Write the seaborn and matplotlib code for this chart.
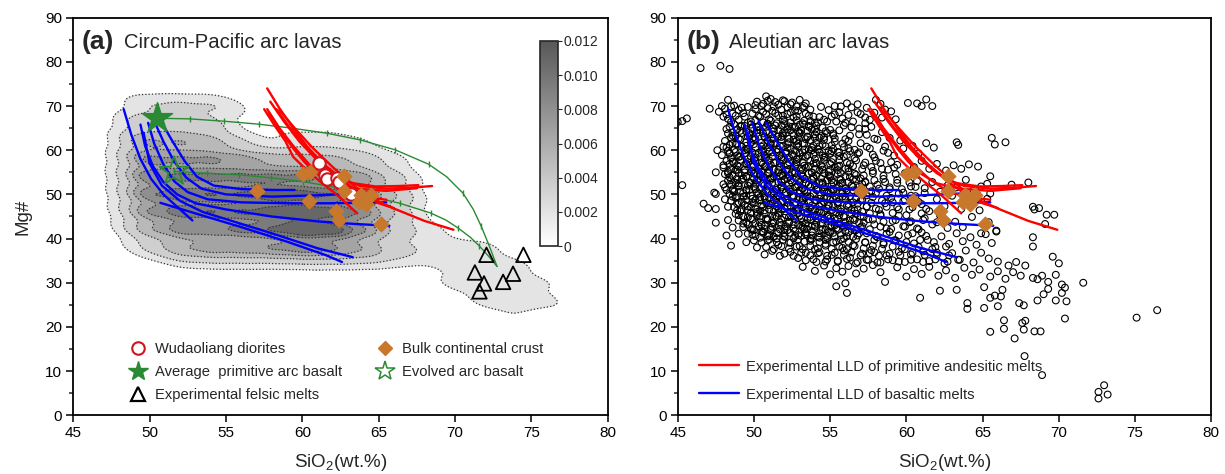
import numpy as np
import pandas as pd
import matplotlib
matplotlib.use("Agg")
import matplotlib.pyplot as plt
import seaborn as sns
from matplotlib.lines import Line2D
from matplotlib.colors import LinearSegmentedColormap, Normalize
from matplotlib.cm import ScalarMappable
from matplotlib.ticker import MultipleLocator

sns.set_theme(style="ticks")
plt.rcParams['font.family'] = ['Liberation Sans', 'DejaVu Sans']
plt.rcParams['mathtext.fontset'] = 'custom'
plt.rcParams['mathtext.rm'] = 'Liberation Sans'
plt.rcParams['mathtext.default'] = 'regular'

# ---------------- data ----------------
# density anchors for circum-Pacific arc lavas (SiO2, Mg#, relative density)
dens_sio2 = [50, 52, 54, 55.2,
             49.3, 50, 52, 54,
             49.3, 50, 52, 54, 56, 58, 60, 62, 64,
             49.3, 50, 52, 54, 56, 58, 60, 62, 64, 66,
             49.3, 50, 52, 54, 56, 58, 60, 62, 64, 66,
             49.3, 50, 52, 54, 56, 58, 60, 62, 64, 66,
             49.3, 50, 52, 54, 56, 58, 60, 62, 64, 66,
             49.3, 50, 52, 54, 56, 58, 60, 62, 64, 66, 68,
             50, 52, 54, 56, 58, 60, 62, 64, 66, 68, 70, 72,
             52, 54, 56, 58, 60, 62, 64, 66, 68, 70, 72, 74,
             70, 72, 74, 76,
             72, 74, 76,
             74]
dens_mg = [70, 70, 70, 70,
           66, 66, 66, 66,
           62, 62, 62, 62, 62, 62, 62, 62, 62,
           58, 58, 58, 58, 58, 58, 58, 58, 58, 58,
           54, 54, 54, 54, 54, 54, 54, 54, 54, 54,
           50, 50, 50, 50, 50, 50, 50, 50, 50, 50,
           46, 46, 46, 46, 46, 46, 46, 46, 46, 46,
           42, 42, 42, 42, 42, 42, 42, 42, 42, 42, 42,
           38, 38, 38, 38, 38, 38, 38, 38, 38, 38, 38, 38,
           36, 36, 36, 36, 36, 36, 36, 36, 36, 34, 34, 34,
           30, 30, 30, 30,
           26, 26, 26,
           22]
dens_w = [0.8, 1.0, 0.8, 0.3,
          0.5, 1.5, 1.8, 1.2,
          1.2, 2.5, 3.0, 2.5, 0.8, 0.1, 0.5, 0.5, 0.2,
          1.5, 3.5, 4.0, 4.0, 3.5, 2.5, 2.5, 2.2, 1.5, 0.3,
          1.5, 4.0, 5.0, 5.0, 5.0, 5.0, 5.0, 4.5, 3.5, 1.2,
          1.3, 4.0, 5.5, 5.5, 5.5, 6.5, 6.0, 5.5, 4.5, 2.0,
          1.0, 3.5, 5.5, 5.5, 5.5, 6.0, 6.5, 6.0, 4.5, 1.8,
          0.5, 2.5, 4.5, 4.5, 5.0, 5.5, 7.0, 6.5, 4.0, 1.5, 0.5,
          1.0, 2.5, 3.0, 3.0, 3.5, 4.0, 3.5, 2.5, 1.0, 0.5, 0.4, 0.3,
          0.8, 1.0, 1.0, 1.0, 1.2, 1.2, 1.0, 0.5, 0.3, 0.4, 0.5, 0.3,
          0.35, 0.5, 0.5, 0.2,
          0.35, 0.5, 0.3,
          0.2]

# Experimental LLD of basaltic melts
blue_sio2 = [
    [48.3, 48.8, 49.4, 50.1, 50.9, 51.8, 52.8],
    [49.4, 49.7, 50.2, 50.9, 51.8, 53.0, 55.0, 58.0, 61.0, 63.5, 65.7],
    [49.9, 50.3, 50.9, 51.6, 52.5, 53.8, 56.0, 59.0, 62.0, 65.5],
    [50.3, 50.9, 51.6, 52.4, 53.4, 55.0, 58.0, 61.0, 64.8],
    [50.8, 51.5, 52.3, 53.1, 54.2, 56.0, 58.0, 59.5],
    [50.7, 53.0, 56.0, 59.0, 61.5, 62.6],
    [49.6, 50.0, 50.8, 52.0, 53.5, 55.0, 58.0, 61.0, 63.3],
]
blue_mg = [
    [69.3, 63.5, 58.0, 53.5, 50.0, 47.2, 44.1],
    [65.8, 61.0, 56.5, 52.8, 50.0, 48.0, 46.6, 45.0, 43.9, 43.3, 42.9],
    [66.2, 61.5, 56.8, 53.0, 50.5, 48.9, 48.2, 48.0, 48.0, 48.2],
    [66.6, 62.0, 57.5, 53.8, 51.3, 50.0, 49.5, 49.8, 50.4],
    [66.2, 62.0, 57.5, 54.0, 52.0, 51.2, 51.0, 51.0],
    [48.1, 45.7, 42.6, 39.3, 36.3, 34.7],
    [64.0, 57.0, 52.0, 48.5, 46.0, 44.4, 41.2, 37.8, 35.8],
]

# Experimental LLD of primitive andesitic melts
red_sio2 = [
    [57.7, 58.5, 59.4, 60.4, 61.5, 62.6, 63.8, 65.5, 67.0, 68.5],
    [57.9, 58.8, 59.8, 60.9, 62.0, 63.2, 64.8, 66.3, 67.6],
    [57.5, 58.2, 58.9, 59.4, 60.2, 61.2, 62.3, 63.6],
    [57.7, 58.5, 59.4, 60.4, 61.5, 62.8, 64.2, 65.5],
    [58.3, 59.2, 60.2, 61.3, 62.5, 63.8, 65.0, 66.0],
    [58.5, 59.5, 60.6, 61.8, 63.0, 64.3, 66.0, 68.0, 69.9],
    [57.8, 58.6, 59.5, 60.1, 60.8, 62.0, 63.5, 65.5, 67.5],
]
red_mg = [
    [74.0, 69.5, 65.0, 60.5, 56.5, 53.5, 51.9, 51.3, 51.5, 51.9],
    [71.0, 66.5, 62.0, 58.0, 54.8, 52.6, 51.8, 51.9, 52.1],
    [69.3, 65.5, 62.0, 58.5, 55.8, 52.8, 49.8, 45.7],
    [69.3, 65.0, 61.0, 57.0, 53.5, 50.5, 49.3, 48.8],
    [69.3, 65.0, 61.0, 57.2, 53.5, 50.2, 48.0, 46.9],
    [69.1, 65.0, 60.8, 56.8, 53.0, 49.5, 46.8, 44.0, 42.0],
    [68.5, 64.2, 60.0, 57.5, 55.0, 52.5, 51.3, 50.8, 51.4],
]

# mixing curves (green); tick marks at mixing increments
mix_sio2 = [
    [50.45, 52.63, 54.89, 57.14, 59.35, 61.6, 63.79, 66.09, 68.27, 69.45, 70.52, 71.2, 71.72, 72.25, 72.75],
    [51.6, 53.78, 55.85, 57.95, 60.03, 62.2, 64.3, 66.4, 68.4, 69.4, 70.2, 71.0, 71.6, 72.2, 72.75],
]
mix_mg = [
    [67.24, 67.1, 66.56, 65.9, 64.98, 63.85, 62.34, 60.08, 56.84, 54.0, 50.29, 46.6, 42.75, 38.3, 33.7],
    [55.2, 54.8, 54.43, 53.75, 52.9, 51.6, 49.7, 47.98, 45.8, 44.2, 42.4, 40.3, 38.3, 36.0, 33.7],
]
mix_ticks = [[0, 1, 2, 3, 4, 5, 6, 7, 8, 10, 12], [0, 1, 2, 3, 4, 5, 6, 7, 8, 10, 12]]

wud_sio2 = [61.1, 61.5, 61.6, 62.3, 62.4, 63.2]
wud_mg = [57.0, 54.5, 53.4, 53.8, 52.7, 50.0]

bcc_sio2 = [57.05, 60.07, 60.53, 62.75, 62.75, 60.43, 63.83, 64.53, 63.7, 64.2, 62.19, 62.43, 65.15]
bcc_mg = [50.66, 54.63, 55.1, 54.25, 50.7, 48.5, 49.95, 49.85, 48.2, 47.8, 46.35, 44.25, 43.4]

felsic_sio2 = [72.06, 74.48, 71.3, 71.9, 71.6, 73.15, 73.8]
felsic_mg = [36.33, 36.33, 32.33, 29.85, 28.05, 30.2, 32.05]

pab_sio2, pab_mg = [50.45], [67.24]      # average primitive arc basalt
eab_sio2, eab_mg = [51.6], [55.2]        # evolved arc basalt

# Aleutian arc lavas: scattered samples
ale_sio2 = [
 46.5, 47.8, 48.4, 45.0, 45.3, 45.6, 47.1, 45.3, 46.7, 47.0, 47.4, 47.5, 47.5, 47.5, 47.6,
 47.9, 48.3, 48.7, 49.2, 50.1, 50.8, 50.9, 51.4, 51.9, 52.4, 52.8, 53.3, 54.4, 54.9, 55.3, 55.7, 56.1, 56.4, 56.8, 57.4, 58.0, 58.3, 58.6, 59.0,
 47.7, 48.0, 48.3, 48.6, 49.4, 49.8, 50.3, 50.6, 51.0, 51.2, 51.6, 52.0, 52.2, 52.6, 52.9, 53.3, 53.6, 54.0, 54.3, 54.8, 55.3, 55.8, 56.5, 57.0, 57.6, 57.9, 58.4, 59.3,
 48.2, 48.6, 49.1, 49.5, 49.9, 50.2, 50.6, 50.9, 51.3, 51.6, 51.9, 52.3, 52.6, 52.9, 53.3, 53.5, 53.8, 54.1, 54.3, 54.7, 55.2, 55.6, 56.0, 56.4, 56.9, 57.3, 57.9, 58.4, 58.9, 59.6,
 48.0, 48.4, 48.8, 49.1, 49.5, 49.8, 50.1, 50.5, 50.8, 51.1, 51.5, 51.8, 52.2, 52.5, 52.9, 53.2, 53.6, 53.9, 54.3, 54.7, 55.1, 55.6, 56.2, 56.8, 57.4, 57.9, 58.5, 59.2, 59.8, 60.4, 60.8, 61.3, 61.8, 63.3, 63.4,
 47.5, 48.0, 48.3, 48.6, 48.9, 49.2, 49.5, 49.8, 50.1, 50.4, 50.7, 51.0, 51.3, 51.6, 51.9, 52.2, 52.5, 52.8, 53.1, 53.4, 53.8, 54.1, 54.5, 54.9, 55.3, 55.7, 56.2, 56.7, 57.2, 57.8, 58.3, 58.8, 59.4, 59.9, 60.5, 61.0, 61.5, 62.0, 62.6, 63.1, 63.6, 64.1, 64.7,
 48.0, 48.2, 48.5, 48.7, 49.0, 49.3, 49.5, 49.8, 50.1, 50.3, 50.6, 50.9, 51.2, 51.5, 51.8, 52.1, 52.4, 52.7, 53.0, 53.3, 53.6, 53.9, 54.2, 54.5, 54.8, 55.1, 55.4, 55.8, 56.1, 56.5, 56.9, 57.3, 57.7, 58.1, 58.5, 58.9, 59.4, 59.8, 60.3, 60.7, 61.2, 61.7, 62.2, 62.7, 63.3, 63.9, 64.4, 64.9, 65.5, 65.3,
 48.1, 48.3, 48.6, 48.9, 49.2, 49.5, 49.8, 50.1, 50.4, 50.7, 51.0, 51.3, 51.6, 51.9, 52.2, 52.5, 52.8, 53.1, 53.4, 53.7, 54.0, 54.3, 54.6, 54.9, 55.2, 55.5, 55.8, 56.2, 56.6, 57.0, 57.4, 57.8, 58.2, 58.6, 59.0, 59.4, 59.8, 60.2, 60.6, 61.0, 61.5, 62.0, 62.5, 63.0, 63.6, 64.2, 64.8, 65.3, 68.3, 68.4, 68.7, 69.2, 69.7,
 48.3, 48.6, 49.0, 49.3, 49.6, 49.9, 50.2, 50.5, 50.8, 51.1, 51.4, 51.7, 52.0, 52.3, 52.6, 52.9, 53.2, 53.5, 53.8, 54.1, 54.4, 54.7, 55.0, 55.3, 55.6, 55.9, 56.3, 56.7, 57.1, 57.5, 57.9, 58.3, 58.7, 59.1, 59.5, 59.9, 60.3, 60.8, 61.2, 61.7, 62.2, 62.7, 63.2, 63.7, 64.3, 64.9, 65.4, 65.9, 69.1,
 48.2, 48.5, 49.0, 49.5, 49.9, 50.2, 50.6, 50.9, 51.3, 51.6, 52.0, 52.3, 52.7, 53.0, 53.4, 53.7, 54.0, 54.3, 54.7, 55.0, 55.4, 55.8, 56.1, 56.5, 56.9, 57.3, 57.7, 58.1, 58.5, 58.9, 59.3, 59.7, 60.1, 60.5, 61.0, 61.4, 61.9, 62.3, 62.8, 63.3, 63.7, 64.2, 64.6, 65.2, 65.6, 65.9, 68.3, 68.3,
 50.7, 51.2, 51.7, 52.4, 52.9, 53.4, 53.9, 54.3, 54.7, 55.1, 55.5, 55.9, 56.3, 56.7, 57.1, 57.5, 57.9, 58.3, 58.7, 59.1, 59.5, 59.9, 60.3, 60.7, 61.1, 61.5, 62.0, 62.5, 63.0, 63.4, 63.9, 64.4, 64.9, 65.4, 66.0, 66.7, 67.2, 69.6, 70.0,
 53.2, 54.0, 54.6, 55.0, 55.4, 55.8, 56.2, 56.7, 57.2, 57.8, 58.3, 58.6, 59.4, 60.0, 60.5, 61.0, 61.5, 62.1, 62.6, 63.2, 63.8, 64.3, 64.8, 65.5, 66.0, 66.5, 67.0, 67.5, 67.8, 68.3, 68.6, 68.9, 69.3, 69.8, 70.2, 70.4, 71.6,
 55.4, 56.0, 56.1, 63.3, 60.9, 62.2, 65.1, 65.5, 65.8, 66.3, 66.2, 67.4, 67.7, 68.6, 69.0, 69.3, 69.8, 70.2, 70.5,
 64.0, 64.0, 65.1, 66.0, 66.4, 66.4, 65.5, 67.1, 67.6, 67.8, 67.7, 68.4, 68.8, 70.4,
 68.9, 67.75, 72.6, 72.97, 73.2, 72.6, 75.1, 76.45, 65.6, 65.8, 66.5, 65.5, 66.9, 68.0, 60.1, 60.7, 61.0, 61.3, 61.7,
]
ale_mg = [
 78.6, 79.1, 78.4, 66.4, 66.6, 67.2, 69.4, 52.1, 47.9, 46.9, 50.4, 50.1, 46.7, 43.6, 60.0,
 70.0, 71.4, 70.1, 69.6, 70.2, 72.2, 71.2, 70.9, 71.3, 70.4, 69.9, 70.0, 69.8, 69.1, 70.0, 69.9, 70.6, 69.7, 70.4, 69.6, 71.4, 70.5, 69.2, 68.8,
 68.7, 67.6, 67.1, 68.3, 67.6, 66.5, 67.8, 68.7, 67.0, 68.9, 67.9, 66.6, 68.2, 67.4, 68.9, 66.7, 67.8, 66.2, 67.5, 66.5, 68.1, 67.2, 66.5, 68.2, 66.9, 68.5, 67.4, 67.0,
 64.8, 63.3, 65.4, 64.2, 62.7, 65.2, 63.8, 65.9, 62.6, 64.6, 63.3, 65.4, 62.4, 64.2, 65.8, 63.1, 64.7, 65.6, 62.8, 64.3, 63.4, 64.5, 62.5, 65.2, 63.6, 64.8, 62.6, 64.1, 62.8, 62.2,
 60.8, 59.2, 61.4, 58.6, 60.3, 61.7, 59.1, 60.8, 58.3, 61.2, 59.6, 58.4, 60.6, 59.1, 61.5, 58.6, 60.2, 59.0, 60.9, 58.5, 59.8, 58.7, 60.4, 59.2, 60.8, 58.4, 59.9, 58.8, 60.4, 61.0, 59.3, 61.6, 60.6, 61.8, 61.2,
 55.0, 56.6, 54.8, 57.4, 55.6, 54.3, 56.8, 55.1, 57.6, 54.6, 56.3, 54.9, 57.2, 55.5, 54.2, 56.6, 55.0, 57.3, 54.6, 56.1, 54.9, 57.0, 55.6, 54.3, 56.2, 54.8, 55.9, 54.4, 56.6, 55.3, 57.1, 55.6, 56.7, 54.8, 56.2, 57.6, 55.8, 56.9, 55.4, 56.6, 55.8, 56.8, 56.3,
 52.3, 51.0, 53.2, 50.6, 52.0, 53.6, 50.9, 52.6, 51.2, 53.4, 50.3, 52.2, 53.7, 51.0, 52.8, 50.5, 53.2, 51.6, 52.9, 50.8, 52.2, 53.6, 51.3, 52.7, 50.6, 53.2, 51.5, 52.6, 50.9, 53.4, 51.7, 52.9, 50.7, 52.2, 53.5, 51.2, 52.6, 50.4, 51.8, 53.0, 51.4, 52.8, 50.6, 52.0, 51.6, 53.3, 50.9, 51.8, 50.2, 52.4,
 48.9, 47.2, 49.5, 46.4, 48.3, 49.7, 47.1, 48.8, 46.3, 49.2, 47.6, 49.9, 46.8, 48.5, 47.2, 49.6, 46.5, 48.2, 49.4, 47.0, 48.7, 46.2, 49.1, 47.5, 48.9, 46.7, 49.5, 47.8, 46.3, 48.6, 47.2, 49.4, 46.5, 48.0, 49.2, 47.1, 48.5, 46.6, 49.6, 47.8, 46.2, 48.9, 47.3, 49.7, 46.7, 48.2, 46.4, 49.0, 47.2, 46.6, 46.9, 45.4, 45.4,
 44.2, 42.5, 45.3, 43.4, 44.8, 42.1, 45.6, 43.1, 44.5, 42.4, 45.2, 43.7, 42.2, 44.9, 43.2, 45.7, 42.6, 44.3, 42.9, 45.4, 43.5, 42.0, 44.6, 43.0, 45.3, 42.5, 44.1, 45.6, 42.8, 44.4, 43.2, 45.5, 42.3, 44.0, 45.2, 42.7, 43.9, 42.1, 44.6, 43.2, 45.3, 42.4, 43.8, 42.6, 44.9, 41.2, 43.7, 41.6, 43.3,
 40.7, 38.4, 41.1, 39.2, 40.9, 38.0, 41.6, 39.6, 40.4, 38.6, 41.3, 39.1, 40.6, 38.3, 41.0, 39.5, 37.6, 40.2, 38.8, 41.4, 39.3, 37.9, 40.5, 38.5, 41.2, 39.1, 37.4, 40.3, 38.7, 41.5, 39.6, 37.8, 40.8, 38.9, 41.4, 39.7, 38.1, 40.5, 38.8, 41.2, 39.4, 40.3, 38.6, 41.0, 39.0, 41.8, 40.3, 38.2,
 36.4, 37.2, 36.1, 37.0, 35.6, 36.8, 35.3, 36.9, 34.8, 36.3, 35.0, 37.3, 35.7, 34.4, 36.6, 35.2, 36.9, 34.6, 36.2, 35.1, 37.0, 34.7, 36.4, 35.3, 37.1, 34.9, 36.3, 34.4, 36.7, 35.2, 37.3, 34.6, 36.8, 35.5, 34.8, 33.9, 34.7, 35.9, 34.4,
 33.6, 32.7, 33.9, 31.9, 33.3, 32.5, 33.8, 32.1, 33.2, 34.0, 32.4, 30.2, 33.5, 31.4, 33.1, 32.0, 33.6, 31.6, 32.8, 31.1, 33.4, 31.8, 33.0, 31.4, 32.6, 30.9, 32.4, 31.6, 33.9, 31.1, 30.8, 31.6, 30.2, 31.8, 29.6, 28.9, 30.0,
 29.2, 29.9, 27.7, 28.4, 26.6, 28.2, 29.0, 26.6, 27.1, 28.4, 26.9, 25.4, 24.9, 26.0, 27.4, 28.6, 26.0, 27.7, 25.8,
 25.4, 24.1, 24.3, 24.7, 21.5, 19.6, 18.9, 17.4, 20.9, 21.4, 19.4, 19.0, 19.0, 21.9,
 9.1, 13.4, 5.3, 6.8, 4.7, 3.8, 22.1, 23.8, 62.8, 61.3, 61.8, 54.1, 52.2, 52.7, 70.7, 70.6, 70.0, 71.5, 70.0,
]
# Aleutian arc lavas: densely packed core samples
core_sio2 = [
 50.2, 50.6, 51.1, 51.6, 52.0, 52.5, 53.0, 53.4,
 48.1, 48.5, 49.0, 49.6, 50.1, 50.5, 50.9, 51.3, 51.8, 52.2, 52.7, 53.2, 53.7,
 48.2, 48.8, 49.3, 49.9, 50.4, 50.8, 51.4, 51.9, 52.4, 52.8, 53.4, 53.9, 55.1, 55.6, 56.2, 56.8, 57.3,
 48.5, 49.0, 49.6, 50.1, 50.6, 51.1, 51.5, 51.9, 52.4, 52.8, 53.2, 53.7, 54.2, 54.6, 55.4, 56.0, 57.3,
 48.4, 48.9, 49.4, 49.9, 50.4, 50.8, 51.3, 51.8, 52.2, 52.7, 53.1, 53.6, 54.0, 54.5, 55.0, 55.9, 56.9, 57.7,
 48.3, 48.8, 49.2, 49.7, 50.2, 50.7, 51.2, 51.6, 52.1, 52.6, 53.0, 53.5, 54.0, 54.4, 55.2, 56.3, 57.4,
 48.1, 48.6, 49.1, 49.5, 50.0, 50.5, 50.9, 51.4, 51.8, 52.3, 52.8, 53.2, 53.7, 54.1, 54.6, 55.3, 56.2, 57.0, 58.1,
 48.2, 48.7, 49.2, 49.6, 50.1, 50.6, 51.0, 51.5, 51.9, 52.4, 52.9, 53.3, 53.8, 54.2, 54.7, 55.2, 55.9, 56.6, 57.6, 58.6,
 47.9, 48.4, 48.9, 49.4, 49.8, 50.3, 50.7, 51.2, 51.7, 52.1, 52.6, 53.0, 53.5, 54.0, 54.5, 55.0, 55.5, 56.1, 56.9, 57.8, 58.8,
 48.2, 48.7, 49.1, 49.6, 50.0, 50.5, 51.0, 51.4, 51.9, 52.3, 52.8, 53.2, 53.7, 54.1, 54.6, 55.1, 55.6, 56.1, 56.7, 57.3, 58.0, 59.0,
 48.0, 48.5, 49.0, 49.4, 49.9, 50.3, 50.8, 51.3, 51.7, 52.2, 52.7, 53.1, 53.6, 54.0, 54.5, 55.0, 55.5, 56.0, 56.5, 57.1, 57.7, 58.4, 59.2,
 48.1, 48.6, 49.0, 49.5, 50.0, 50.4, 50.9, 51.3, 51.8, 52.3, 52.7, 53.2, 53.6, 54.1, 54.6, 55.0, 55.5, 56.0, 56.6, 57.2, 57.8, 58.5, 59.3, 60.1,
 48.3, 48.8, 49.2, 49.7, 50.2, 50.6, 51.1, 51.6, 52.0, 52.5, 52.9, 53.4, 53.8, 54.3, 54.8, 55.2, 55.7, 56.2, 56.7, 57.3, 57.9, 58.6, 59.4, 60.2,
 48.1, 48.6, 49.0, 49.5, 50.0, 50.4, 50.9, 51.4, 51.8, 52.3, 52.8, 53.2, 53.7, 54.1, 54.6, 55.1, 55.6, 56.0, 56.5, 57.0, 57.6, 58.2, 58.9, 59.7, 60.6,
 48.4, 48.9, 49.3, 49.8, 50.3, 50.7, 51.2, 51.6, 52.1, 52.6, 53.0, 53.5, 53.9, 54.4, 54.9, 55.3, 55.8, 56.3, 56.8, 57.4, 58.0, 58.7, 59.5, 60.3, 61.2,
 48.5, 49.0, 49.5, 49.9, 50.4, 50.8, 51.3, 51.8, 52.2, 52.7, 53.2, 53.6, 54.1, 54.6, 55.0, 55.5, 56.0, 56.5, 57.1, 57.7, 58.4, 59.1, 59.9, 60.8,
 48.7, 49.2, 49.6, 50.1, 50.6, 51.0, 51.5, 52.0, 52.4, 52.9, 53.4, 53.8, 54.3, 54.8, 55.2, 55.7, 56.2, 56.8, 57.4, 58.0, 58.7, 59.5, 60.4, 61.3,
 48.8, 49.3, 49.8, 50.2, 50.7, 51.2, 51.6, 52.1, 52.6, 53.0, 53.5, 54.0, 54.4, 54.9, 55.4, 55.9, 56.4, 57.0, 57.6, 58.3, 59.1, 60.0, 61.0,
 49.0, 49.5, 49.9, 50.4, 50.9, 51.3, 51.8, 52.3, 52.7, 53.2, 53.7, 54.1, 54.6, 55.1, 55.5, 56.0, 56.6, 57.2, 57.8, 58.5, 59.3, 60.2, 61.1, 62.0,
 49.3, 49.8, 50.3, 50.7, 51.2, 51.7, 52.1, 52.6, 53.1, 53.5, 54.0, 54.5, 55.0, 55.4, 55.9, 56.4, 57.0, 57.6, 58.3, 59.0, 59.8, 60.7,
 49.6, 50.1, 50.6, 51.0, 51.5, 52.0, 52.4, 52.9, 53.4, 53.8, 54.3, 54.8, 55.2, 55.7, 56.2, 56.8, 57.4, 58.0, 58.7, 59.5, 60.4, 61.3,
 50.0, 50.5, 51.0, 51.5, 51.9, 52.4, 52.9, 53.3, 53.8, 54.3, 54.7, 55.2, 55.7, 56.2, 56.7, 57.3, 57.9, 58.5, 59.2, 60.0, 60.9, 61.8,
 50.8, 51.3, 51.8, 52.3, 52.8, 53.2, 53.7, 54.2, 54.7, 55.1, 55.6, 56.1, 56.6, 57.2, 57.8, 58.4, 59.1, 59.9, 60.8, 61.7, 62.6,
 52.0, 52.6, 53.1, 53.7, 54.2, 54.8, 55.3, 55.9, 56.4, 57.0, 57.6, 58.2, 58.9, 59.6, 60.4, 61.2, 62.0, 62.8,
 53.4, 54.1, 54.8, 55.5, 56.1, 56.8, 57.4, 58.1, 58.8, 59.5, 60.3, 61.1, 61.9, 62.7, 63.5,
]
core_mg = [
 71.0, 70.5, 71.6, 70.3, 71.1, 70.8, 71.4, 70.6,
 69.4, 69.9, 69.1, 69.8, 69.3, 70.0, 69.5, 69.9, 69.2, 69.7, 69.0, 69.6, 69.2,
 68.1, 67.8, 68.4, 68.3, 67.6, 68.2, 68.4, 67.8, 68.6, 67.7, 68.3, 67.6, 67.6, 68.6, 68.0, 68.6, 67.4,
 66.4, 66.9, 66.2, 66.8, 66.3, 66.7, 66.1, 66.9, 66.3, 66.8, 66.1, 66.6, 66.3, 66.9, 66.5, 66.2, 66.1,
 65.3, 64.7, 65.5, 65.0, 64.6, 65.3, 64.9, 65.6, 64.7, 65.2, 64.5, 65.3, 64.7, 65.1, 64.6, 65.6, 64.9, 65.3,
 63.8, 63.2, 63.9, 63.4, 63.9, 63.1, 63.6, 63.1, 63.9, 63.4, 63.8, 63.0, 63.6, 63.2, 63.8, 63.3, 63.5,
 62.1, 61.6, 62.4, 61.8, 62.3, 61.7, 62.2, 61.6, 62.4, 61.8, 62.1, 61.6, 62.3, 61.7, 62.4, 61.9, 62.1, 61.6, 62.4,
 60.6, 60.1, 60.8, 60.2, 60.7, 60.0, 60.6, 60.2, 60.9, 60.3, 60.8, 60.1, 60.6, 60.2, 60.9, 60.3, 60.7, 60.1, 60.4, 60.8,
 58.9, 59.4, 58.8, 59.3, 58.6, 59.4, 58.9, 59.5, 58.8, 59.3, 58.7, 59.4, 58.9, 59.5, 58.8, 59.2, 59.6, 58.9, 59.5, 59.0, 59.4,
 57.6, 57.1, 57.8, 57.3, 57.9, 57.2, 57.7, 57.1, 57.8, 57.3, 57.9, 57.2, 57.6, 57.1, 57.8, 57.3, 57.8, 57.2, 57.7, 57.2, 57.6, 57.3,
 56.1, 55.7, 56.3, 55.6, 56.2, 55.8, 56.4, 55.7, 56.2, 55.6, 56.3, 55.8, 56.4, 55.7, 56.2, 55.6, 56.3, 55.8, 56.4, 55.7, 56.2, 55.8, 56.1,
 54.6, 54.2, 54.8, 54.1, 54.7, 54.2, 54.8, 54.1, 54.6, 54.2, 54.8, 54.1, 54.7, 54.3, 54.8, 54.2, 54.6, 54.1, 54.7, 54.3, 54.8, 54.2, 54.6, 54.2,
 53.1, 52.6, 53.3, 52.7, 53.2, 52.6, 53.3, 52.8, 53.4, 52.7, 53.2, 52.6, 53.3, 52.7, 53.2, 52.6, 53.3, 52.8, 53.4, 52.7, 53.2, 52.8, 53.3, 52.7,
 51.6, 51.2, 51.8, 51.1, 51.7, 51.2, 51.8, 51.1, 51.6, 51.2, 51.8, 51.3, 51.7, 51.1, 51.6, 51.2, 51.8, 51.3, 51.7, 51.2, 51.8, 51.3, 51.6, 51.2, 51.7,
 50.1, 49.6, 50.3, 49.7, 50.2, 49.6, 50.3, 49.8, 50.4, 49.7, 50.2, 49.6, 50.3, 49.8, 50.4, 49.7, 50.2, 49.6, 50.3, 49.8, 50.3, 49.7, 50.2, 49.7, 50.3,
 48.6, 48.1, 48.8, 48.2, 48.7, 48.1, 48.8, 48.3, 48.9, 48.2, 48.7, 48.1, 48.6, 48.2, 48.8, 48.3, 48.9, 48.2, 48.7, 48.1, 48.6, 48.2, 48.8, 48.3,
 47.1, 46.6, 47.3, 46.7, 47.2, 46.6, 47.3, 46.8, 47.4, 46.7, 47.2, 46.6, 47.3, 46.8, 47.4, 46.7, 47.2, 46.6, 47.3, 46.8, 47.2, 46.6, 47.1, 46.7,
 45.6, 45.1, 45.8, 45.2, 45.7, 45.1, 45.8, 45.3, 45.9, 45.2, 45.7, 45.1, 45.8, 45.3, 45.9, 45.2, 45.6, 45.1, 45.7, 45.2, 45.8, 45.3, 45.7,
 44.1, 43.6, 44.3, 43.7, 44.2, 43.6, 44.3, 43.8, 44.4, 43.7, 44.2, 43.6, 44.3, 43.8, 44.4, 43.7, 44.2, 43.6, 44.3, 43.8, 44.2, 43.7, 44.2, 43.7,
 42.6, 42.1, 42.8, 42.2, 42.7, 42.1, 42.8, 42.3, 42.9, 42.2, 42.7, 42.1, 42.8, 42.3, 42.9, 42.2, 42.6, 42.1, 42.7, 42.2, 42.8, 42.3,
 41.1, 40.6, 41.3, 40.7, 41.2, 40.6, 41.3, 40.8, 41.4, 40.7, 41.2, 40.6, 41.3, 40.8, 41.4, 40.7, 41.2, 40.6, 41.1, 40.7, 41.2, 40.6,
 39.6, 39.1, 39.8, 39.2, 39.7, 39.1, 39.8, 39.3, 39.9, 39.2, 39.7, 39.1, 39.8, 39.3, 39.9, 39.2, 39.7, 39.1, 39.6, 39.2, 39.7, 39.2,
 38.1, 37.6, 38.3, 37.7, 38.2, 37.6, 38.3, 37.8, 38.4, 37.7, 38.2, 37.6, 38.3, 37.8, 38.4, 37.7, 38.2, 37.6, 38.1, 37.6, 38.2,
 36.6, 36.1, 36.8, 36.2, 36.7, 36.1, 36.8, 36.3, 36.9, 36.2, 36.7, 36.1, 36.6, 36.2, 36.8, 36.3, 36.8, 36.2,
 35.1, 34.7, 35.3, 34.8, 35.4, 34.7, 35.2, 34.6, 35.3, 34.8, 35.2, 34.7, 35.3, 34.8, 35.2,
]
# Aleutian arc lavas: basaltic cluster filling between core rows
fill_sio2 = [
 48.7, 49.2, 49.8, 50.3, 50.9, 51.4, 52.0, 52.5, 53.0, 53.6,
 48.6, 49.1, 49.7, 50.2, 50.8, 51.3, 51.9, 52.4, 53.0, 53.5, 54.1, 54.8,
 48.5, 49.0, 49.6, 50.1, 50.7, 51.2, 51.8, 52.3, 52.9, 53.4, 54.0, 54.6, 55.3,
 48.4, 48.9, 49.5, 50.0, 50.6, 51.1, 51.7, 52.2, 52.8, 53.3, 53.9, 54.5, 55.1, 55.8,
 48.3, 48.8, 49.4, 49.9, 50.5, 51.0, 51.6, 52.1, 52.7, 53.2, 53.8, 54.3, 54.9, 55.6, 56.3,
 48.5, 49.0, 49.6, 50.1, 50.7, 51.2, 51.8, 52.3, 52.9, 53.4, 54.0, 54.6, 55.2, 55.9, 56.6,
 48.4, 48.9, 49.5, 50.0, 50.6, 51.1, 51.7, 52.2, 52.8, 53.3, 53.9, 54.4, 55.0, 55.6, 56.3,
 48.3, 48.8, 49.4, 49.9, 50.5, 51.0, 51.6, 52.1, 52.7, 53.2, 53.8, 54.3, 54.9, 55.5, 56.2,
 48.4, 48.9, 49.5, 50.0, 50.6, 51.1, 51.7, 52.2, 52.8, 53.3, 53.9, 54.4, 55.0, 55.6, 56.3, 57.0,
 48.5, 49.0, 49.6, 50.1, 50.7, 51.2, 51.8, 52.3, 52.9, 53.4, 54.0, 54.5, 55.1, 55.7, 56.4, 57.1,
 48.6, 49.1, 49.7, 50.2, 50.8, 51.3, 51.9, 52.4, 53.0, 53.5, 54.1, 54.6, 55.2, 55.8, 56.5, 57.2,
 48.8, 49.3, 49.9, 50.4, 51.0, 51.5, 52.1, 52.6, 53.2, 53.7, 54.3, 54.8, 55.4, 56.0, 56.7,
 48.9, 49.4, 50.0, 50.5, 51.1, 51.6, 52.2, 52.7, 53.3, 53.8, 54.4, 54.9, 55.5, 56.1, 56.8,
 49.1, 49.6, 50.2, 50.7, 51.3, 51.8, 52.4, 52.9, 53.5, 54.0, 54.6, 55.1, 55.7, 56.4, 57.1,
 49.3, 49.8, 50.4, 50.9, 51.5, 52.0, 52.6, 53.1, 53.7, 54.2, 54.8, 55.3, 55.9, 56.5, 57.2,
 49.6, 50.1, 50.7, 51.2, 51.8, 52.3, 52.9, 53.4, 54.0, 54.5, 55.1, 55.6, 56.2, 56.9,
 50.0, 50.5, 51.1, 51.6, 52.2, 52.7, 53.3, 53.8, 54.4, 54.9, 55.5, 56.0, 56.7,
 50.4, 50.9, 51.5, 52.0, 52.6, 53.1, 53.7, 54.2, 54.8, 55.3, 55.9, 56.5,
]
fill_mg = [
 65.9, 65.5, 65.8, 65.4, 66.0, 65.6, 65.9, 65.3, 65.8, 65.5,
 64.0, 64.4, 63.9, 64.5, 64.1, 64.3, 63.9, 64.5, 64.0, 64.4, 64.1, 63.9,
 62.9, 62.6, 63.1, 62.5, 62.9, 62.7, 63.0, 62.6, 63.1, 62.5, 62.8, 63.0, 62.7,
 61.2, 61.5, 61.0, 61.4, 61.1, 61.6, 61.0, 61.4, 61.1, 61.5, 61.0, 61.3, 61.1, 61.5,
 59.9, 59.6, 60.0, 59.5, 59.9, 59.7, 60.1, 59.6, 59.9, 59.5, 60.0, 59.6, 59.9, 59.5, 59.8,
 58.2, 58.5, 58.0, 58.4, 58.1, 58.6, 58.0, 58.4, 58.1, 58.5, 58.0, 58.3, 58.0, 58.5, 58.2,
 56.9, 56.6, 57.0, 56.5, 56.9, 56.7, 57.1, 56.6, 56.9, 56.5, 57.0, 56.6, 56.9, 56.5, 56.9,
 55.2, 55.5, 55.0, 55.4, 55.1, 55.6, 55.0, 55.4, 55.1, 55.5, 55.0, 55.4, 55.1, 55.5, 55.1,
 53.9, 53.6, 54.0, 53.5, 53.9, 53.7, 54.1, 53.6, 53.9, 53.5, 54.0, 53.6, 53.9, 53.5, 53.9, 53.6,
 52.2, 52.5, 52.0, 52.4, 52.1, 52.6, 52.0, 52.4, 52.1, 52.5, 52.0, 52.4, 52.1, 52.5, 52.0, 52.4,
 50.9, 50.6, 51.0, 50.5, 50.9, 50.7, 51.1, 50.6, 50.9, 50.5, 51.0, 50.6, 50.9, 50.5, 50.9, 50.6,
 49.2, 49.5, 49.0, 49.4, 49.1, 49.6, 49.0, 49.4, 49.1, 49.5, 49.0, 49.4, 49.1, 49.5, 49.1,
 47.9, 47.6, 48.0, 47.5, 47.9, 47.7, 48.1, 47.6, 47.9, 47.5, 48.0, 47.6, 47.9, 47.5, 47.9,
 46.2, 46.5, 46.0, 46.4, 46.1, 46.6, 46.0, 46.4, 46.1, 46.5, 46.0, 46.4, 46.1, 46.5, 46.1,
 44.9, 44.6, 45.0, 44.5, 44.9, 44.7, 45.1, 44.6, 44.9, 44.5, 45.0, 44.6, 44.9, 44.5, 44.9,
 43.2, 43.5, 43.0, 43.4, 43.1, 43.6, 43.0, 43.4, 43.1, 43.5, 43.0, 43.4, 43.1, 43.5,
 41.9, 41.6, 42.0, 41.5, 41.9, 41.7, 42.1, 41.6, 41.9, 41.5, 42.0, 41.6, 41.9,
 40.2, 40.5, 40.0, 40.4, 40.1, 40.6, 40.0, 40.4, 40.1, 40.5, 40.0, 40.4,
]

x_ticks = [45, 50, 55, 60, 65, 70, 75, 80]
y_ticks = [0, 10, 20, 30, 40, 50, 60, 70, 80, 90]
cbar_ticks = [0, 0.002, 0.004, 0.006, 0.008, 0.010, 0.012]
cbar_labels = ['0', '0.002', '0.004', '0.006', '0.008', '0.010', '0.012']

# ---------------- style ----------------
RED = '#ff0000'
BLUE = '#0000ff'
GREEN = '#2a8a34'
ORANGE = '#c8782c'
LLD_LW = 1.7
band_colors = ['#e4e4e4', '#cfcfcf', '#b9b9b9', '#a4a4a4', '#8f8f8f', '#7b7b7b', '#676767']
band_levels = [0.01, 0.06, 0.15, 0.27, 0.43, 0.66, 0.88, 1.0]

fig = plt.figure(figsize=(12.25, 4.74), dpi=100)
axa = fig.add_axes([73.3 / 1225, 1 - 415.3 / 474, 534.4 / 1225, 397.6 / 474])
axb = fig.add_axes([677.7 / 1225, 1 - 415.3 / 474, 533.6 / 1225, 397.6 / 474])

def style_axis(ax):
    ax.set_xlim(45, 80)
    ax.set_ylim(0, 90)
    ax.set_xticks(x_ticks)
    ax.set_yticks(y_ticks)
    ax.yaxis.set_minor_locator(MultipleLocator(5))
    ax.tick_params(axis='both', which='major', direction='out', length=5, width=1.1,
                   labelsize=11, colors='black', pad=3)
    ax.tick_params(axis='y', which='minor', direction='out', length=3, width=1.1)
    for s in ax.spines.values():
        s.set_linewidth(1.3)
        s.set_color('black')
        s.set_visible(True)
    ax.set_xlabel('SiO$_2$(wt.%)', fontsize=13.5, labelpad=8)
    ax.set_facecolor('white')

# ---------------- panel a ----------------
dens_df = pd.DataFrame({'sio2': dens_sio2, 'mg': dens_mg, 'w': dens_w})
BW = 0.4
sns.kdeplot(data=dens_df, x='sio2', y='mg', weights='w', fill=True, levels=band_levels,
            color='#999999', colors=band_colors, bw_adjust=BW, ax=axa, zorder=1)
sns.kdeplot(data=dens_df, x='sio2', y='mg', weights='w', fill=False, levels=band_levels[:-1],
            color='#333333', linewidths=0.9, linestyles=':', bw_adjust=BW, ax=axa, zorder=2)

def draw_llds(ax):
    for xs, ys in zip(blue_sio2, blue_mg):
        sns.lineplot(x=xs, y=ys, sort=False, estimator=None, color=BLUE, linewidth=LLD_LW,
                     ax=ax, zorder=4)
    for xs, ys in zip(red_sio2, red_mg):
        sns.lineplot(x=xs, y=ys, sort=False, estimator=None, color=RED, linewidth=LLD_LW,
                     ax=ax, zorder=6)

draw_llds(axa)
for xs, ys, mk in zip(mix_sio2, mix_mg, mix_ticks):
    sns.lineplot(x=xs, y=ys, sort=False, estimator=None, color=GREEN, linewidth=1,
                 marker='|', markersize=5, markeredgewidth=1, markeredgecolor=GREEN,
                 markevery=mk, ax=axa, zorder=3)

axa.scatter(wud_sio2, wud_mg, s=80, facecolor='white', edgecolor='#d0141e', linewidth=1.5, zorder=7)
axa.scatter(bcc_sio2, bcc_mg, s=55, marker='D', color=ORANGE, edgecolor=ORANGE, zorder=8)
axa.scatter(felsic_sio2, felsic_mg, s=110, marker='^', facecolor='none', edgecolor='black',
            linewidth=1.3, zorder=8)
axa.scatter(pab_sio2, pab_mg, s=520, marker='*', color=GREEN, edgecolor=GREEN, zorder=7)
axa.scatter(eab_sio2, eab_mg, s=480, marker='*', facecolor='none', edgecolor=GREEN,
            linewidth=1.3, zorder=9)

style_axis(axa)
axa.set_ylabel('Mg#', fontsize=13.5, labelpad=10)
axa.text(0.016, 0.94, '(a)', transform=axa.transAxes, fontsize=19, fontweight='bold',
         va='center', ha='left')
axa.text(0.094, 0.937, 'Circum-Pacific arc lavas', transform=axa.transAxes, fontsize=14.6,
         va='center', ha='left')

handles_a = [
    Line2D([], [], ls='none', marker='o', ms=9, mfc='white', mec='#d0141e', mew=1.5),
    Line2D([], [], ls='none', marker='*', ms=15, mfc=GREEN, mec=GREEN),
    Line2D([], [], ls='none', marker='^', ms=10, mfc='none', mec='black', mew=1.6),
    Line2D([], [], ls='none', marker='D', ms=7.5, mfc=ORANGE, mec=ORANGE),
    Line2D([], [], ls='none', marker='*', ms=15, mfc='none', mec=GREEN, mew=1.1),
]
labels_a = ['Wudaoliang diorites', 'Average  primitive arc basalt', 'Experimental felsic melts',
            'Bulk continental crust', 'Evolved arc basalt']
axa.legend(handles_a, labels_a, ncol=2, loc='upper left', bbox_to_anchor=(0.1, 0.185),
           frameon=False, fontsize=10.6, handlelength=1.5, handletextpad=0.4,
           labelspacing=0.62, columnspacing=2.2, borderpad=0, borderaxespad=0)

cax = fig.add_axes([539.5 / 1225, 1 - 246 / 474, 18.5 / 1225, 205 / 474])
cmap_bar = LinearSegmentedColormap.from_list('grey_bar', ['#ffffff', '#585858'])
cb = fig.colorbar(ScalarMappable(norm=Normalize(0, 0.012), cmap=cmap_bar), cax=cax,
                  ticks=cbar_ticks)
cb.ax.set_yticklabels(cbar_labels)
cb.ax.tick_params(labelsize=10, length=3, width=0.8, direction='out', pad=1)
cb.outline.set_linewidth(1.2)

# ---------------- panel b ----------------
sns.scatterplot(x=ale_sio2 + core_sio2 + fill_sio2, y=ale_mg + core_mg + fill_mg, marker='o',
                s=24, facecolor='none', edgecolor='black', linewidth=0.8, ax=axb, zorder=2,
                legend=False)
draw_llds(axb)
axb.scatter(bcc_sio2, bcc_mg, s=55, marker='D', color=ORANGE, edgecolor=ORANGE, zorder=8)
style_axis(axb)
axb.set_ylabel('')
axb.text(0.016, 0.94, '(b)', transform=axb.transAxes, fontsize=19, fontweight='bold',
         va='center', ha='left')
axb.text(0.097, 0.937, 'Aleutian arc lavas', transform=axb.transAxes, fontsize=14.6,
         va='center', ha='left')
handles_b = [Line2D([], [], color=RED, lw=LLD_LW), Line2D([], [], color=BLUE, lw=LLD_LW)]
labels_b = ['Experimental LLD of primitive andesitic melts', 'Experimental LLD of basaltic melts']
axb.legend(handles_b, labels_b, loc='upper left', bbox_to_anchor=(0.04, 0.14), frameon=False,
           fontsize=10.6, handlelength=2.7, handletextpad=0.5, labelspacing=0.95,
           borderpad=0, borderaxespad=0)

fig.savefig('out.png', dpi=100)
